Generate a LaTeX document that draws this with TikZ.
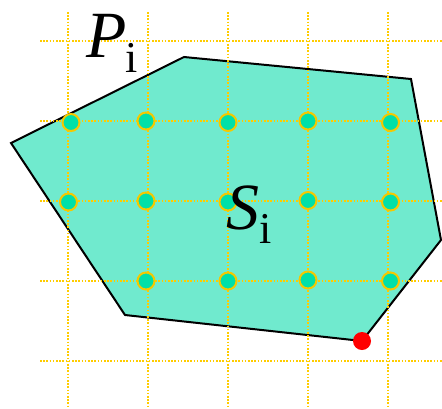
\documentclass[tikz,border=0pt]{standalone}
\usepackage{fontspec}
\setmainfont{Liberation Serif}
\usepackage{xcolor}
\usetikzlibrary{arrows.meta,positioning}

\definecolor{regionfill}{RGB}{112,234,206}
\definecolor{gridyellow}{RGB}{255,204,0}
\definecolor{dotgreen}{RGB}{0,224,168}
\definecolor{ringyellow}{RGB}{245,200,0}

\begin{document}
\begin{tikzpicture}[
  x=1pt, y=-1pt,
  every node/.style={font=\fontsize{66}{66}\selectfont},
  region/.style={draw=black, line width=2pt, fill=regionfill},
  gridline/.style={gridyellow, line width=1.6pt, dash pattern=on 1.6pt off 1.6pt},
  lattice/.style={circle, draw=ringyellow, line width=2pt, fill=dotgreen,
    minimum size=17pt, inner sep=0pt},
  vertex/.style={circle, fill=red, minimum size=18pt, inner sep=0pt},
  tag/.style={anchor=base west, inner sep=0pt}
]
\useasboundingbox (0,0) rectangle (442,408);

% polygon S_i
\draw[region] (11,143) -- (184,57) -- (411,79) -- (441,240) -- (362,341) -- (125,315) -- cycle;

% lattice P_i
\foreach \y in {41,121,201,281,361}
  \draw[gridline] (40,\y) -- (442,\y);
\foreach \x in {68,148,228,308,388}
  \draw[gridline] (\x,12) -- (\x,408);

% lattice points inside the region
\node[lattice] (p-1-1) at (71,122.5) {};
\node[lattice] (p-1-2) at (146,121) {};
\node[lattice] (p-1-3) at (228,122.5) {};
\node[lattice] (p-1-4) at (308,121) {};
\node[lattice] (p-1-5) at (390.5,122.5) {};
\node[lattice] (p-2-1) at (68.5,202) {};
\node[lattice] (p-2-2) at (146,201) {};
\node[lattice] (p-2-3) at (228,202) {};
\node[lattice] (p-2-4) at (308,200.5) {};
\node[lattice] (p-2-5) at (390.5,202) {};
\node[lattice] (p-3-2) at (146,281) {};
\node[lattice] (p-3-3) at (228,281) {};
\node[lattice] (p-3-4) at (308,280) {};
\node[lattice] (p-3-5) at (390.5,281) {};

% lowest vertex
\node[vertex] (low) at (362,341) {};

% labels
\node[tag] (Pi) at (86,57) {\itshape P\kern-1pt\raisebox{-15pt}{\upshape\fontsize{44}{44}\selectfont i}};
\node[tag] (Si) at (226,229) {\itshape S\raisebox{-14pt}{\upshape\fontsize{44}{44}\selectfont i}};
\end{tikzpicture}
\end{document}
